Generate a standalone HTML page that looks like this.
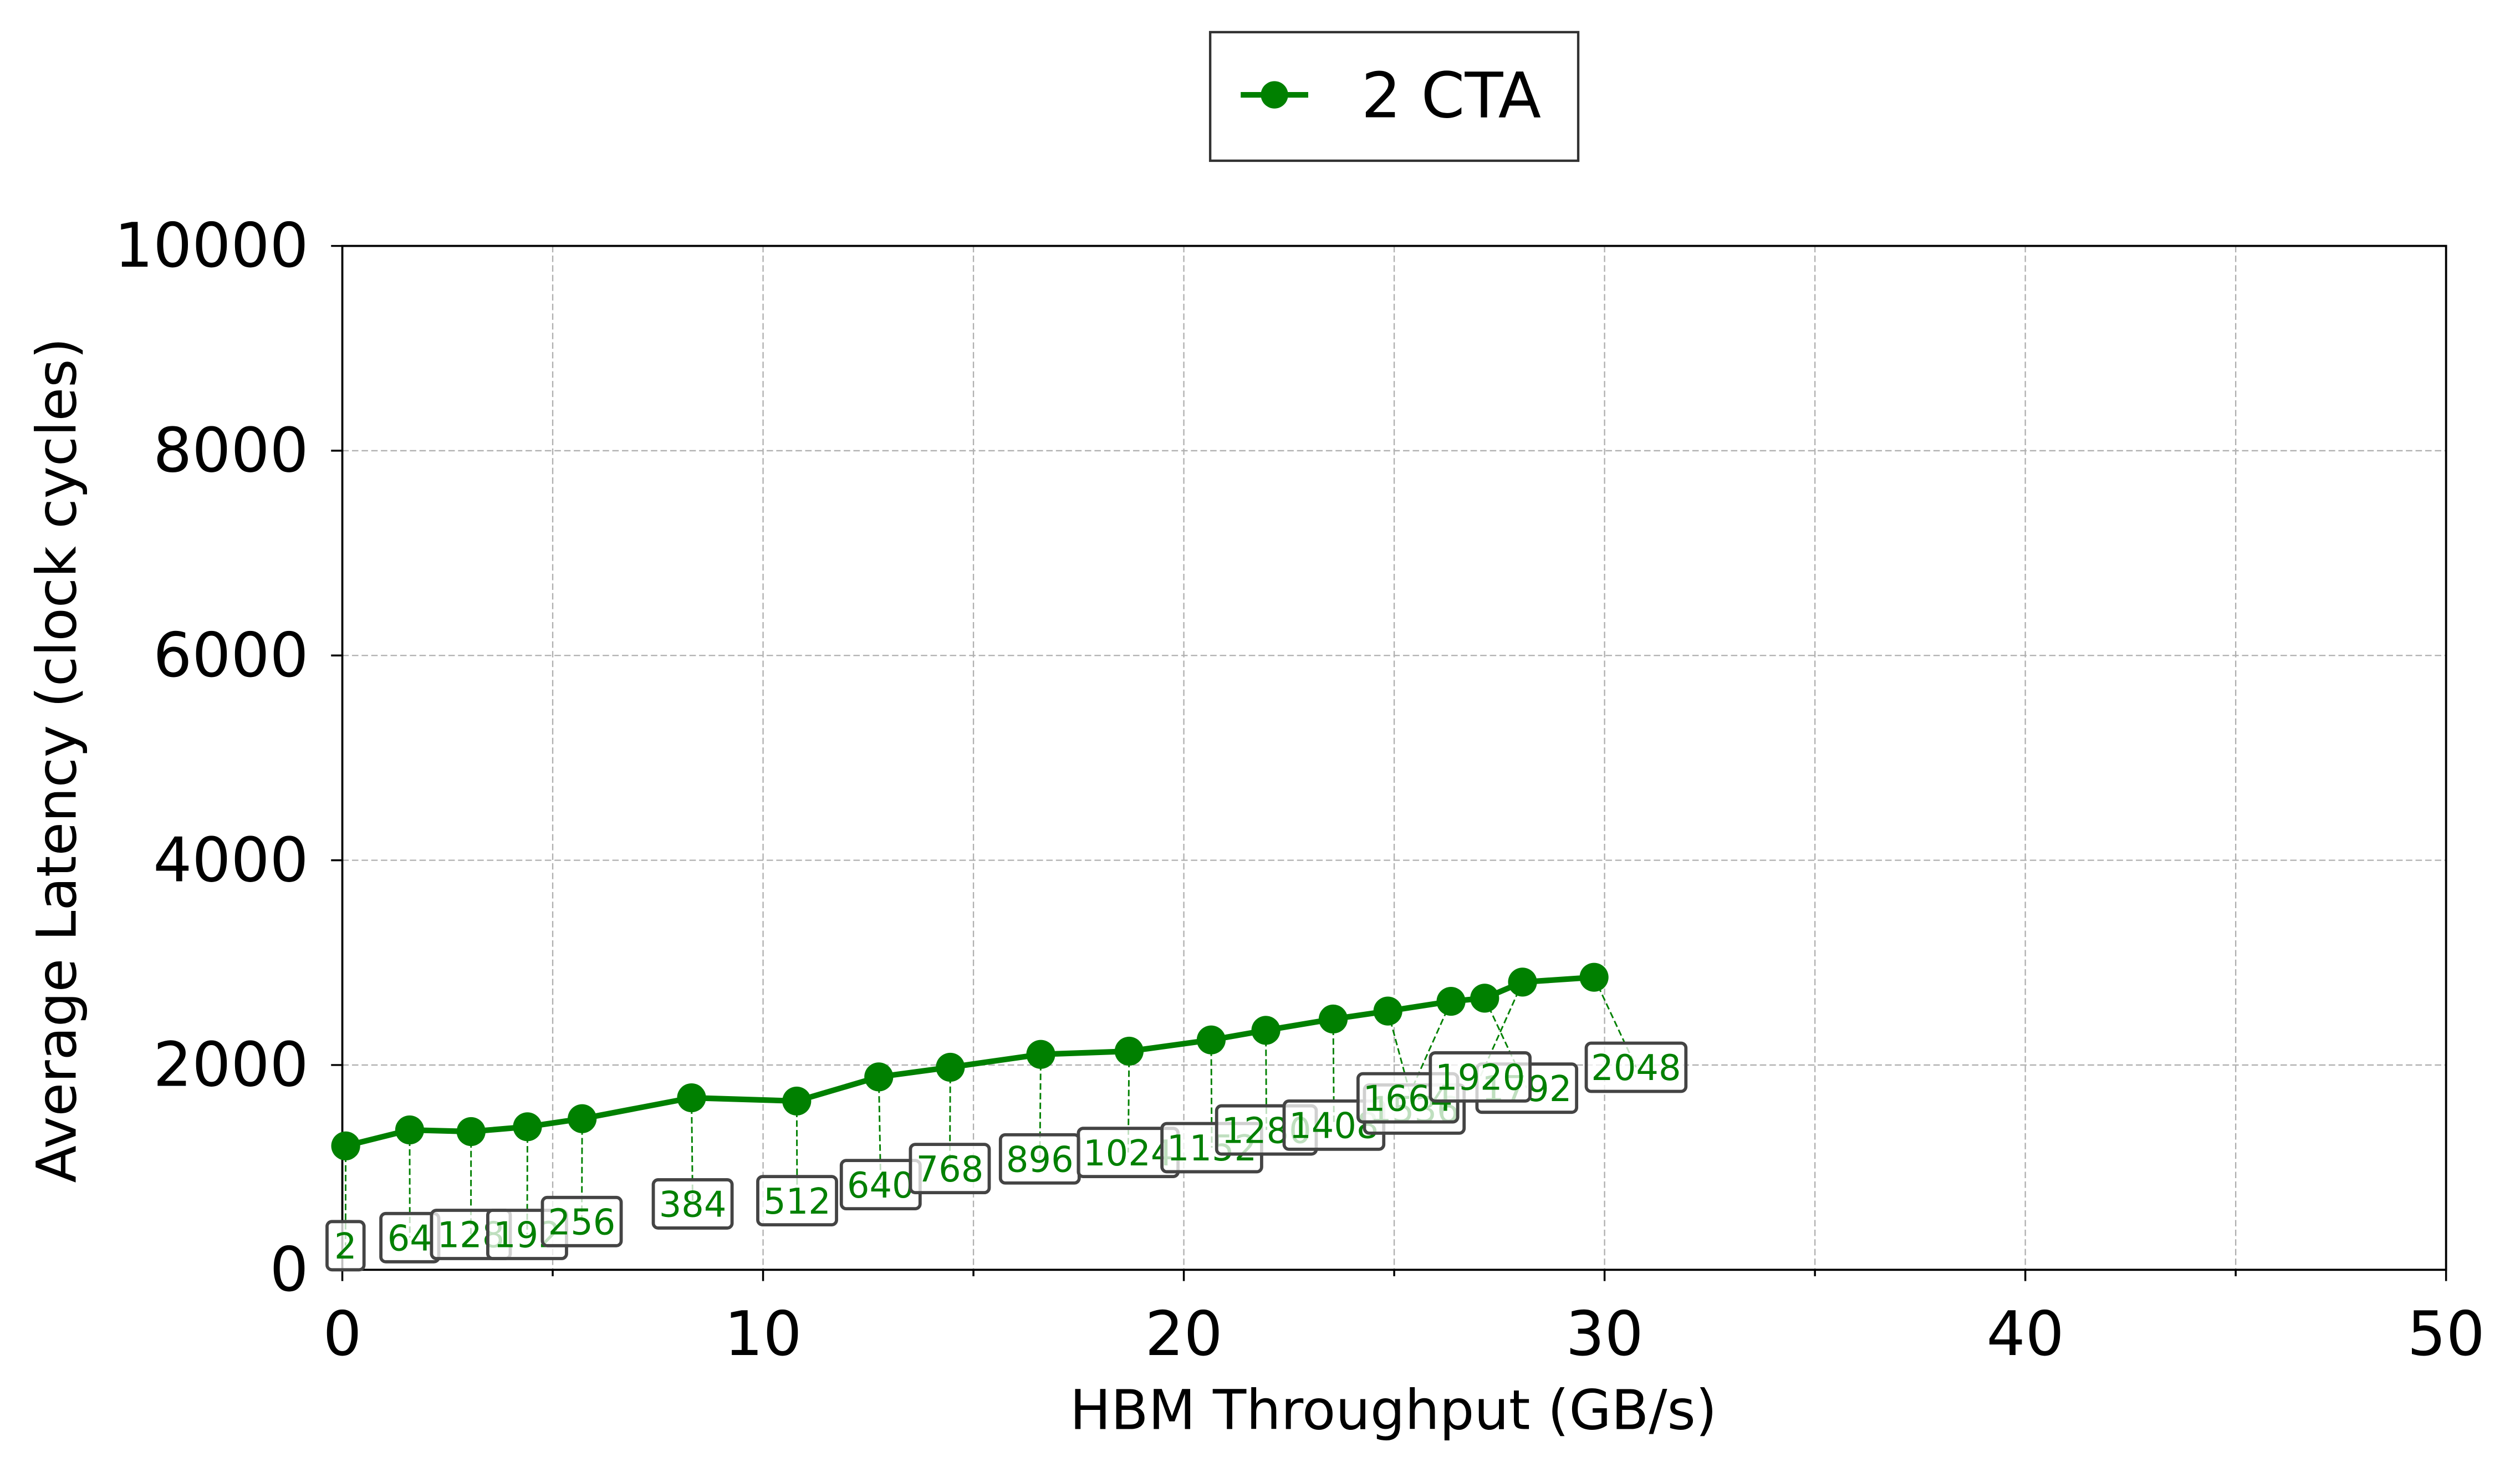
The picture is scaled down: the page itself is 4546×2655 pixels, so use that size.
<!DOCTYPE html>
<html><head><meta charset="utf-8"><style>html,body{margin:0;padding:0;background:#fff}svg{display:block}</style></head>
<body>
<svg id="chart" width="4546" height="2655" viewBox="0 0 1568 915.8" preserveAspectRatio="none" xmlns="http://www.w3.org/2000/svg" font-family="'DejaVu Sans','Liberation Sans',sans-serif">
<g id="grid"></g>
<g id="ticks"></g>
<rect x="213" y="153" width="1309" height="637" fill="none" stroke="#000" stroke-width="1.3"/>
<g id="leaders"></g>
<g id="series"></g>
<g id="labels"></g>
<text x="867" y="889" font-size="34" text-anchor="middle">HBM Throughput (GB/s)</text>
<text transform="translate(47,473) rotate(-90)" font-size="34" text-anchor="middle">Average Latency (clock cycles)</text>
<g>
<rect x="753" y="20" width="229" height="80" fill="#fff" stroke="#333" stroke-width="1.5"/>
<line x1="772" y1="59" x2="814" y2="59" stroke="#008000" stroke-width="3.5"/>
<circle cx="793" cy="59" r="8.5" fill="#008000"/>
<text x="847" y="73" font-size="39">2 CTA</text>
</g>
</svg>
<script>
const xVals=[0.08,1.6,3.06,4.4,5.7,8.3,10.8,12.75,14.45,16.6,18.7,20.65,21.95,23.55,24.85,26.35,27.15,28.05,29.75];
const yVals=[1210,1366,1350,1397,1476,1680,1648,1884,1978,2104,2135,2245,2339,2449,2527,2622,2653,2810,2857];
const pointLabels=["2","64","128","192","256","384","512","640","768","896","1024","1152","1280","1408","1536","1664","1792","1920","2048"];
const xTicks=[0,10,20,30,40,50];
const yTicks=[0,2000,4000,6000,8000,10000];
const labelPos=[[215,775],[255,770],[293,768],[328,768],[362,760],[431,749],[496,747],[548,737],[591,727],[647,721],[702,717],[754,714],[788,703],[830,700],[880,690],[876,683],[950,677],[921,670],[1018,664]];
const NS="http://www.w3.org/2000/svg";
const X=v=>213+v/50*1309, Y=v=>790-v/10000*637;
function mk(p,t,a){const e=document.createElementNS(NS,t);for(const k in a)e.setAttribute(k,a[k]);p.appendChild(e);return e;}
const grid=document.getElementById('grid'),ticks=document.getElementById('ticks');
for(let v=0;v<=50;v+=5){const l=mk(grid,'line',{x1:X(v),x2:X(v),y1:153,y2:790,stroke:'#b0b0b0','stroke-width':0.8,'stroke-dasharray':'4,2'});

mk(ticks,'line',{x1:X(v),x2:X(v),y1:790,y2:xTicks.includes(v)?797:794,stroke:'#000','stroke-width':1.2});}
yTicks.forEach(v=>{const l=mk(grid,'line',{x1:213,x2:1522,y1:Y(v),y2:Y(v),stroke:'#b0b0b0','stroke-width':0.8,'stroke-dasharray':'4,2'});

mk(ticks,'line',{x1:206,x2:213,y1:Y(v),y2:Y(v),stroke:'#000','stroke-width':1.2});
const t=mk(ticks,'text',{x:192,y:Y(v)+13,'font-size':38,'text-anchor':'end'});t.textContent=v;
});
xTicks.forEach(v=>{const t=mk(ticks,'text',{x:X(v),y:843,'font-size':38,'text-anchor':'middle'});t.textContent=v;
});
const series=document.getElementById('series'),leaders=document.getElementById('leaders'),labels=document.getElementById('labels');
const ln=mk(series,'polyline',{points:xVals.map((x,i)=>X(x)+','+Y(yVals[i])).join(' '),fill:'none',stroke:'#008000','stroke-width':3.5});

xVals.forEach((x,i)=>{const c=mk(series,'circle',{cx:X(x),cy:Y(yVals[i]),r:9,fill:'#008000'});

const [lx,ly]=labelPos[i];
const ld=mk(leaders,'line',{x1:X(x),y1:Y(yVals[i]),x2:lx,y2:ly,stroke:'#008000','stroke-width':1,'stroke-dasharray':'4,2'});

const w=pointLabels[i].length*13+10;
const r=mk(labels,'rect',{x:lx-w/2,y:ly-15,width:w,height:30,rx:3,fill:'#fff','fill-opacity':0.75,stroke:'#444','stroke-width':2});

const t=mk(labels,'text',{x:lx,y:ly+8,'font-size':22,fill:'#008000','text-anchor':'middle'});t.textContent=pointLabels[i];
});
</script>
</body></html>
